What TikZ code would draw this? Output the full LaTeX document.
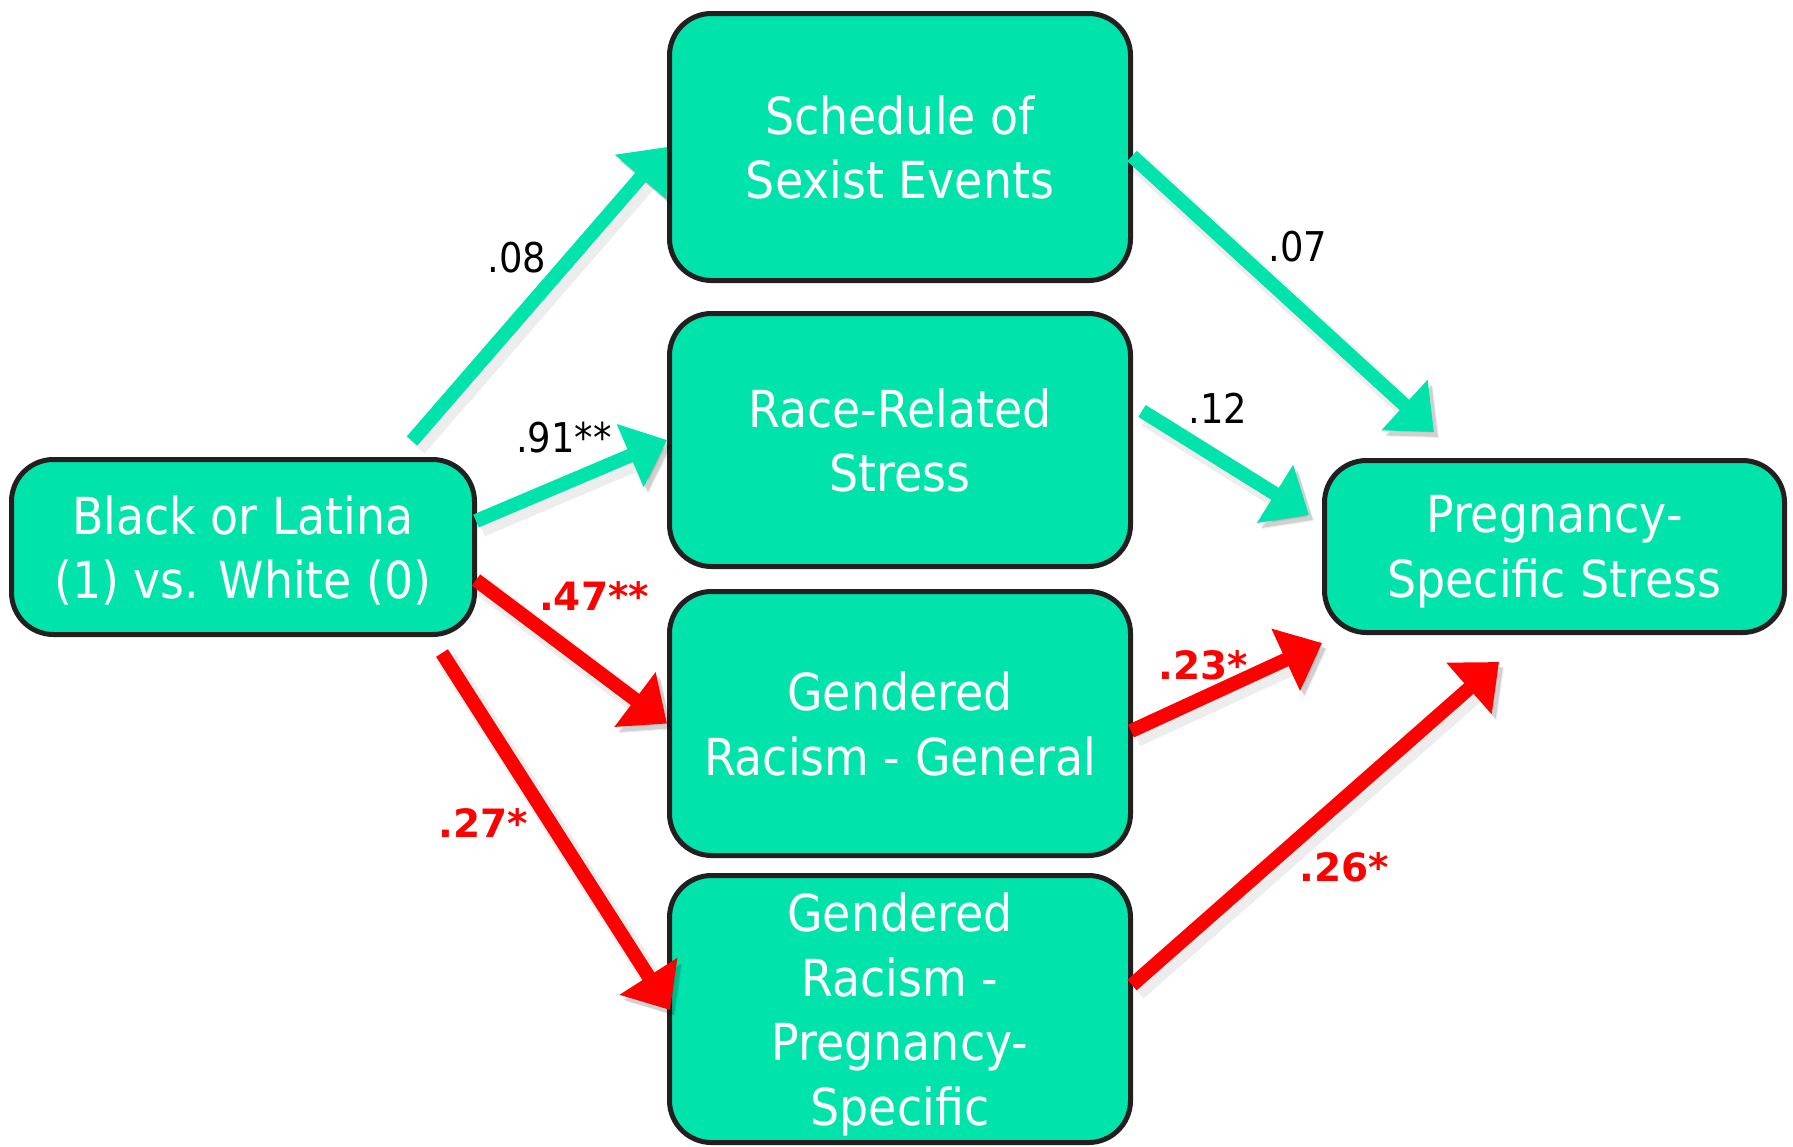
\documentclass[tikz,border=0pt]{standalone}
\usepackage{fontspec}
\setmainfont{DejaVuSansCondensed.ttf}[BoldFont=DejaVuSansCondensed-Bold.ttf]
\newfontfamily\redlabfont{DejaVuSans-Bold.ttf}
\usetikzlibrary{arrows.meta,calc}
\definecolor{boxteal}{RGB}{0,227,170}
\definecolor{boxborder}{RGB}{35,31,32}
\definecolor{arrred}{RGB}{255,0,0}
\tikzset{
  varbox/.style={draw=boxborder, line width=5pt, fill=boxteal, rounded corners=42pt,
    text=white, align=center, inner sep=0pt, minimum width=461pt, text depth=0pt,
    font=\fontsize{51pt}{64.5pt}\selectfont},
  shadowed/.style={
    preaction={draw=black, opacity=0.07, line width=20pt, transform canvas={shift={(5pt,-6pt)}}},
    preaction={draw=black, opacity=0.12, transform canvas={shift={(4pt,-5pt)}}}},
  tealarr/.style={draw=boxteal, line width=14pt, -{Triangle[length=40pt,width=66pt]}, shadowed},
  redarr/.style={draw=arrred, line width=14pt, -{Triangle[length=40pt,width=66pt]}, shadowed},
  plainlab/.style={text=black, inner sep=0pt, font=\fontsize{41pt}{45pt}\selectfont},
  redlab/.style={text=arrred, inner sep=0pt, font=\fontsize{39pt}{45pt}\redlabfont}
}
\begin{document}
\begin{tikzpicture}[x=1pt,y=-1pt]
\useasboundingbox (0,0) rectangle (1793,1146);
% boxes
\node[varbox, minimum width=463pt, minimum height=175pt] (bl) at (243,547) {Black or Latina\\(1) vs. White (0)};
\node[varbox, minimum height=267pt] (sched) at (900,147) {Schedule of\\Sexist Events};
\node[varbox, minimum height=253pt] (race) at (900,440) {Race-Related\\Stress};
\node[varbox, minimum height=264pt] (gg) at (900,723.5) {Gendered\\Racism - General};
\node[varbox, minimum height=267pt] (gp) at (900,1009) {Gendered\\Racism -\\Pregnancy-\\Specific};
\node[varbox, minimum width=460pt, minimum height=172pt] (pss) at (1554.5,546.5) {Pregnancy-\\Specific Stress};
% free connector ends
\coordinate (s08) at (412,441);
\coordinate (s91) at (476,521);
\coordinate (s47) at (476,580);
\coordinate (s27) at (442,653);
\coordinate (s07) at (1132,156);
\coordinate (e07) at (1434,432);
\coordinate (s12) at (1142,411);
\coordinate (e12) at (1309,515);
\coordinate (s23) at (1131,731);
\coordinate (e23) at (1322,643);
\coordinate (s26) at (1132,985);
\coordinate (e26) at (1499,662);
% connectors
\draw[tealarr] (s08) -- (sched.west);
\draw[tealarr] (s91) -- (race.west);
\draw[redarr] (s47) -- (gg.west);
\draw[redarr] (s27) -- ($(gp.west)+(3,1)$);
\draw[tealarr] (s07) -- (e07);
\draw[tealarr] (s12) -- (e12);
\draw[redarr] (s23) -- (e23);
\draw[redarr] (s26) -- (e26);
% labels
\node[plainlab] (l08) at (517,258) {.08};
\node[plainlab] (l91) at (564,438) {.91**};
\node[plainlab] (l12) at (1218,408) {.12};
\node[plainlab] (l07) at (1298,247) {.07};
\node[redlab] (l47) at (594,596) {.47**};
\node[redlab] (l23) at (1203,665) {.23*};
\node[redlab] (l27) at (483,823) {.27*};
\node[redlab] (l26) at (1344,867) {.26*};
\end{tikzpicture}
\end{document}
